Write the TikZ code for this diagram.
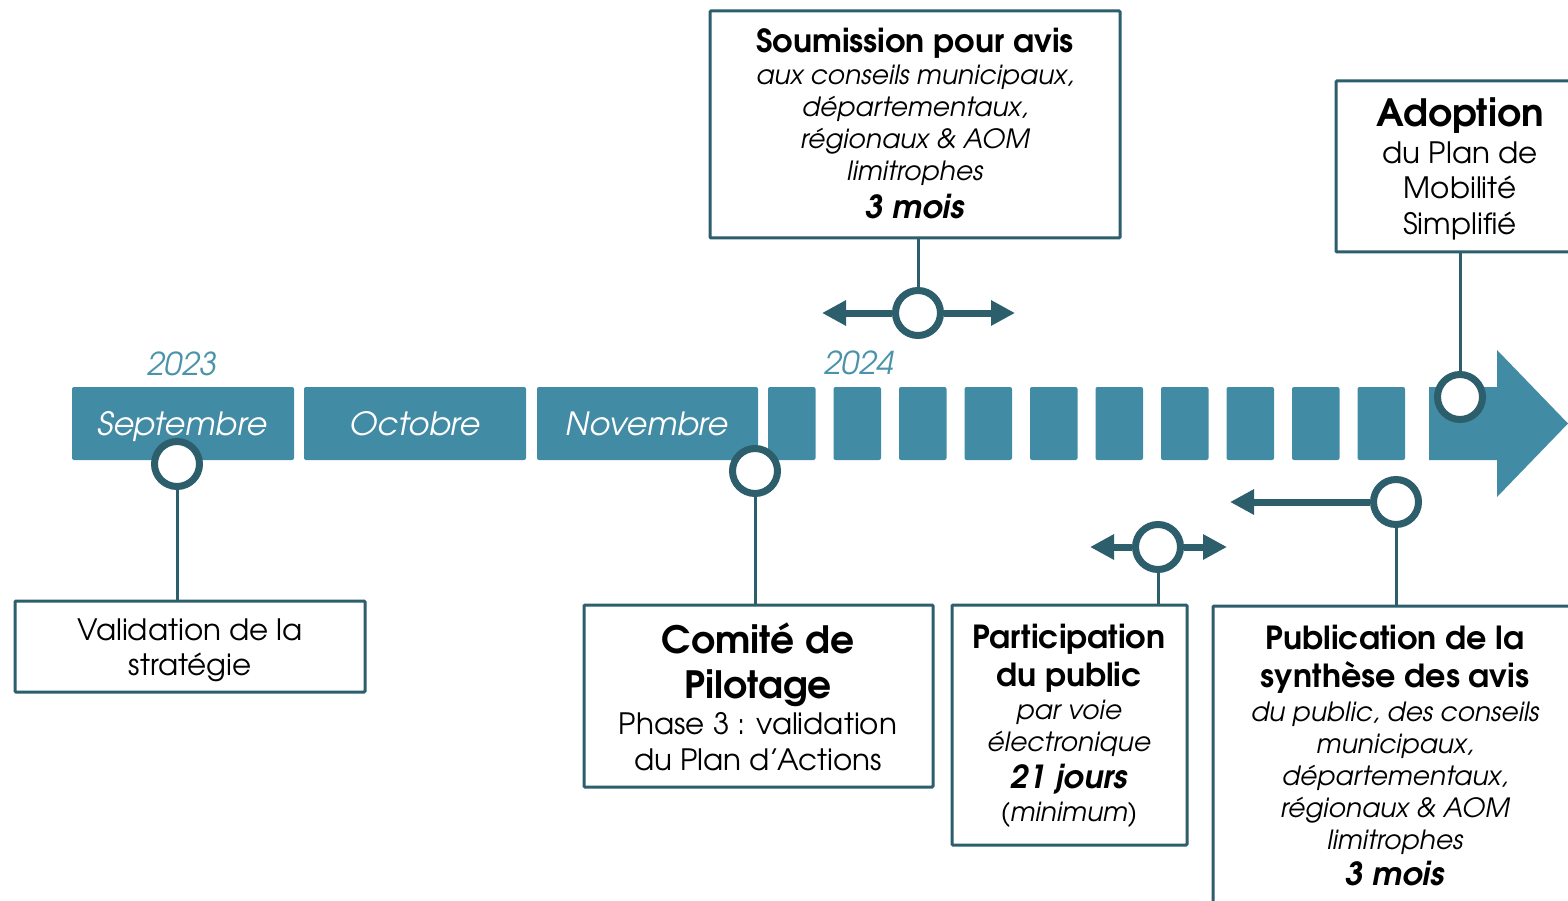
\documentclass[tikz,border=0pt]{standalone}
\usepackage{fontspec}
\setmainfont{TeX Gyre Adventor}
\usetikzlibrary{arrows.meta}
\definecolor{barc}{HTML}{428BA4}
\definecolor{darkc}{HTML}{2D5E6C}
\definecolor{yearc}{HTML}{4A93AB}
\newcommand\fsz[1]{\fontsize{#1}{#1}\selectfont}
\begin{document}
\begin{tikzpicture}[x=1pt,y=-1pt,
  barseg/.style={fill=barc, draw=none, rounded corners=2pt, inner sep=0, minimum height=73pt},
  evbox/.style={draw=darkc, line width=3pt, fill=white, rounded corners=1pt, inner sep=0},
  ring/.style={circle, draw=darkc, line width=7pt, fill=white, minimum size=45pt, inner sep=0},
  conn/.style={draw=darkc, line width=3pt},
  harrow/.style={draw=darkc, line width=7pt, -{Triangle[length=24pt,width=24pt]}},
  txt/.style={anchor=base, inner sep=0},
  ttl/.style={txt, font=\fsz{31.8}\bfseries},
  big/.style={txt, font=\fsz{37.6}\bfseries},
  reg/.style={txt, font=\fsz{29.4}},
  itl/.style={txt, font=\fsz{26.5}\itshape},
  bit/.style={txt, font=\fsz{31.8}\bfseries\itshape},
  month/.style={txt, font=\fsz{32}\itshape, text=white},
  year/.style={txt, font=\fsz{31.5}\itshape, text=yearc}]
\useasboundingbox (0,0) rectangle (1568,901);

% timeline bar
\node[barseg, minimum width=222pt] (sep) at (183,423.5) {};
\node[barseg, minimum width=222pt] (oct) at (415,423.5) {};
\node[barseg, minimum width=221pt] (nov) at (647.5,423.5) {};
\foreach \i in {0,...,9}
  \node[barseg, minimum width=47.5pt] (sq\i) at ({791.75+65.5*\i},423.5) {};
\fill[barc] (1429,387) -- (1497,387) -- (1497,350) -- (1568,423.5) -- (1497,497) -- (1497,460) -- (1429,460) -- cycle;

\node[month] (tsep) at (182,435) {Septembre};
\node[month] (toct) at (415,435) {Octobre};
\node[month] (tnov) at (647,435) {Novembre};
\node[year] (y23) at (182,375) {2023};
\node[year] (y24) at (859,374) {2024};

% boxes
\node[evbox, minimum width=410pt, minimum height=227pt] (soum) at (915,124.5) {};
\node[evbox, minimum width=244pt, minimum height=171pt] (adop) at (1458,166.5) {};
\node[evbox, minimum width=350pt, minimum height=91pt] (val) at (190,646.5) {};
\node[evbox, minimum width=349pt, minimum height=182pt] (com) at (758.5,696) {};
\node[evbox, minimum width=235pt, minimum height=240pt] (par) at (1069.5,725) {};
\node[evbox, minimum width=367pt, minimum height=309pt] (pub) at (1396.5,760.5) {};

% rings
\node[ring] (r1) at (177,464) {};
\node[ring] (r2) at (755,471) {};
\node[ring] (r3) at (918,313) {};
\node[ring] (r4) at (1158,547) {};
\node[ring] (r5) at (1396,502) {};
\node[ring] (r6) at (1460,397) {};

% connectors
\draw[conn] (r1.south) -- (r1.south |- val.north);
\draw[conn] (r2.south) -- (r2.south |- com.north);
\draw[conn] (soum.south -| r3.north) -- (r3.north);
\draw[conn] (r4.south) -- (r4.south |- par.north);
\draw[conn] (r5.south) -- (r5.south |- pub.north);
\draw[conn] (adop.south -| r6.north) -- (r6.north);

% arrows
\coordinate (a3l) at (822,313);
\coordinate (a3r) at (1015,313);
\coordinate (a4l) at (1090,547);
\coordinate (a4r) at (1227,547);
\coordinate (a5l) at (1230,502);
\draw[harrow] (r3.west) -- (a3l);
\draw[harrow] (r3.east) -- (a3r);
\draw[harrow] (r4.west) -- (a4l);
\draw[harrow] (r4.east) -- (a4r);
\draw[harrow] (r5.west) -- (a5l);

% texts: Soumission
\node[ttl] (s1) at (915,53) {Soumission pour avis};
\node[itl] (s2) at (915,85) {aux conseils municipaux,};
\node[itl] (s3) at (915,117) {départementaux,};
\node[itl] (s4) at (915,149) {régionaux \& AOM};
\node[itl] (s5) at (915,181) {limitrophes};
\node[bit] (s6) at (915,219) {3 mois};

% Adoption
\node[big] (ad1) at (1460,127) {Adoption};
\node[reg] (ad2) at (1460,164) {du Plan de};
\node[reg] (ad3) at (1460,199) {Mobilité};
\node[reg] (ad4) at (1460,235) {Simplifié};

% Validation
\node[reg] (v1) at (190,640) {Validation de la};
\node[reg] (v2) at (190,675) {stratégie};

% Comite
\node[big] (c1) at (758,653) {Comité de};
\node[big] (c2) at (758,698) {Pilotage};
\node[reg] (c3) at (758,734) {Phase 3 : validation};
\node[reg] (c4) at (758,770) {du Plan d’Actions};

% Participation
\node[ttl] (p1) at (1069,648) {Participation};
\node[ttl] (p2) at (1069,686) {du public};
\node[itl] (p3) at (1069,719) {par voie};
\node[itl] (p4) at (1069,751) {électronique};
\node[bit] (p5) at (1069,788) {21 jours};
\node[itl] (p6) at (1069,821) {(minimum)};

% Publication
\node[ttl] (u1) at (1395,649) {Publication de la};
\node[ttl] (u2) at (1395,687) {synthèse des avis};
\node[itl] (u3) at (1395,721) {du public, des conseils};
\node[itl] (u4) at (1395,753) {municipaux,};
\node[itl] (u5) at (1395,785) {départementaux,};
\node[itl] (u6) at (1395,817) {régionaux \& AOM};
\node[itl] (u7) at (1395,849) {limitrophes};
\node[bit] (u8) at (1395,885) {3 mois};
\end{tikzpicture}
\end{document}
